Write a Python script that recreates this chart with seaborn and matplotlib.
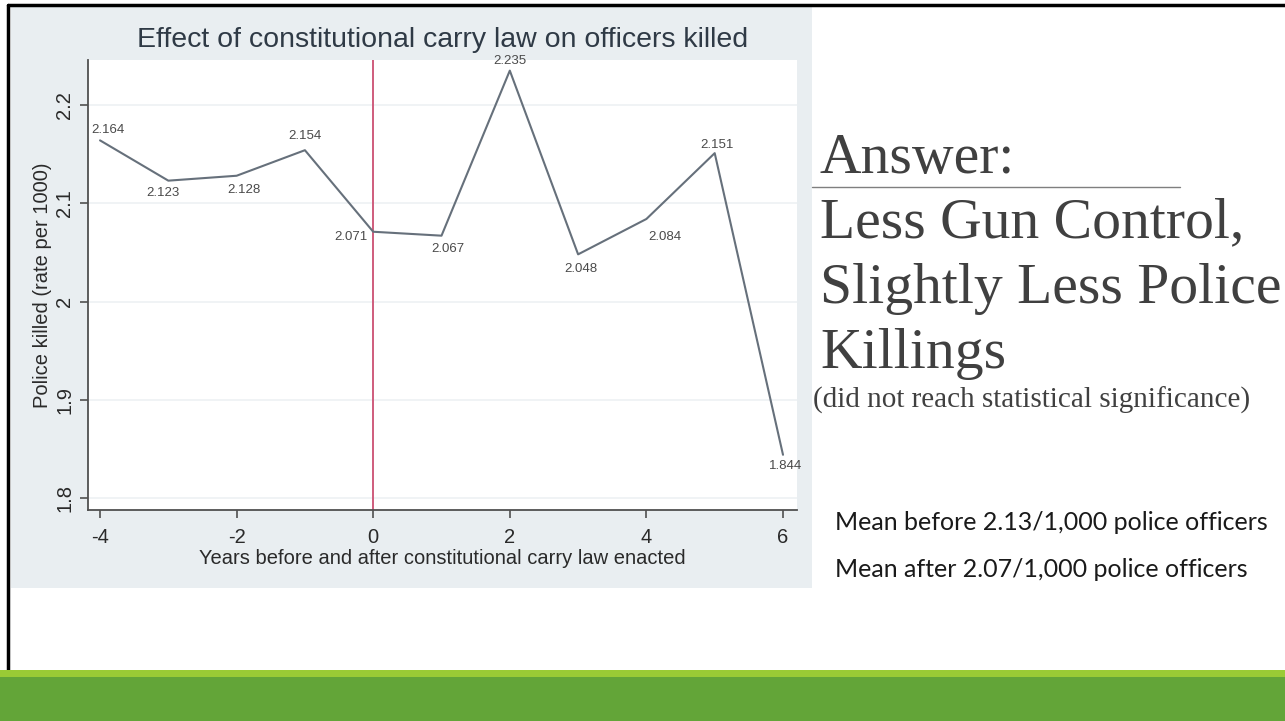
import matplotlib
matplotlib.use("Agg")
import matplotlib.pyplot as plt
from matplotlib.patches import Rectangle
from matplotlib.lines import Line2D
import seaborn as sns

# data
years = [-4, -3, -2, -1, 0, 1, 2, 3, 4, 5, 6]
rates = [2.164, 2.123, 2.128, 2.154, 2.071, 2.067, 2.235, 2.048, 2.084, 2.151, 1.844]
point_labels = ["2.164", "2.123", "2.128", "2.154", "2.071", "2.067", "2.235", "2.048", "2.084", "2.151", "1.844"]
x_ticks = [-4, -2, 0, 2, 4, 6]
y_ticks = [1.8, 1.9, 2.0, 2.1, 2.2]
y_tick_labels = ["1.8", "1.9", "2", "2.1", "2.2"]

answer_lines = ["Answer:", "Less Gun Control,", "Slightly Less Police", "Killings"]
note = "(did not reach statistical significance)"
mean_lines = ["Mean before 2.13/1,000 police officers", "Mean after 2.07/1,000 police officers"]

# label offsets in pixels (dx, dy), one per point
label_offsets = [(8, 10), (-5, -12), (7, -14), (0, 14), (-22, -5), (6, -13),
                 (0, 10), (3, -15), (18, -18), (2, 8), (3, -11)]

sns.set_style("white")
plt.rcParams['font.family'] = ['Liberation Sans', 'DejaVu Sans']

W, H = 1285, 721
fig = plt.figure(figsize=(W / 100, H / 100), dpi=100)
fig.patch.set_facecolor("white")


def fx(x):
    return x / W


def fy(y):
    return 1 - y / H


def rect(x0, y0, x1, y1, color, z=0):
    fig.add_artist(Rectangle((fx(x0), fy(y1)), fx(x1) - fx(x0), fy(y0) - fy(y1),
                             transform=fig.transFigure, facecolor=color,
                             edgecolor="none", zorder=z))


# chart background (stata graph region)
rect(11, 7, 812, 588, "#e9eef1", z=-5)

# slide frame lines
fig.add_artist(Line2D([fx(8), 1], [fy(5), fy(5)], transform=fig.transFigure, color="black", lw=2.5))
fig.add_artist(Line2D([fx(8), fx(8)], [fy(5), fy(670)], transform=fig.transFigure, color="black", lw=2.5))

# green footer
rect(0, 670, W, 677, "#9acb35", z=2)
rect(0, 677, W, H, "#63a538", z=2)

# plot area
ax = fig.add_axes([fx(88), fy(510), fx(797) - fx(88), fy(60) - fy(510)])
ax.set_facecolor("white")

for yt in y_ticks:
    ax.axhline(yt, color="#edf1f3", lw=1.2, zorder=0)
ax.axvline(0, color="#cf5c7c", lw=1.4, zorder=1)

sns.lineplot(x=years, y=rates, ax=ax, color="#66707b", lw=1.5, zorder=2)

for x, y, lab, (dx, dy) in zip(years, rates, point_labels, label_offsets):
    ax.annotate(lab, (x, y), xytext=(dx, dy), textcoords="offset pixels",
                ha="center", va="center", fontsize=9.5, color="#4a4a4a")

ax.set_xlim(-4.176, 6.205)
ax.set_ylim(1.7878, 2.2458)
ax.set_xticks(x_ticks)
ax.set_xticklabels([str(t) for t in x_ticks])
ax.set_yticks(y_ticks)
ax.set_yticklabels(y_tick_labels, rotation=90, va="center")

for s in ["top", "right"]:
    ax.spines[s].set_visible(False)
for s in ["left", "bottom"]:
    ax.spines[s].set_color("#505050")
    ax.spines[s].set_linewidth(1.3)
ax.tick_params(axis="both", direction="out", length=6, width=1.2, color="#505050",
               labelsize=14.5, labelcolor="#2a2a2a", left=True, bottom=True)
ax.tick_params(axis="x", pad=7)
ax.tick_params(axis="y", pad=4)

ax.set_xlabel("Years before and after constitutional carry law enacted", fontsize=14.5,
              color="#2a2a2a", va="center")
ax.xaxis.set_label_coords(0.5, (510 - 558) / 450)
ax.set_ylabel("Police killed (rate per 1000)", fontsize=14.5, color="#2a2a2a", va="center")
ax.yaxis.set_label_coords((42 - 88) / 709, 0.5)

ax.text(0.5, (510 - 40) / 450, "Effect of constitutional carry law on officers killed",
        transform=ax.transAxes, ha="center", va="center", fontsize=20.5, color="#2f3a46")

# right-hand text
serif = ["Liberation Serif", "DejaVu Serif"]
baselines = [173, 237, 303, 368]
for txt, b in zip(answer_lines, baselines):
    fig.text(fx(820), fy(b), txt, fontsize=41.5, family=serif, color="#404040",
             ha="left", va="baseline")
fig.add_artist(Line2D([fx(812), fx(1180)], [fy(187), fy(187)], transform=fig.transFigure,
                      color="#7f7f7f", lw=1.0))
fig.text(fx(813), fy(408), note, fontsize=21, family=serif, color="#404040",
         ha="left", va="baseline")

sans = ["Lato", "DejaVu Sans"]
for txt, b in zip(mean_lines, [530, 577]):
    fig.text(fx(835), fy(b), txt, fontsize=18, family=sans, color="#1a1a1a",
             ha="left", va="baseline")

fig.savefig("out.png", dpi=100)
